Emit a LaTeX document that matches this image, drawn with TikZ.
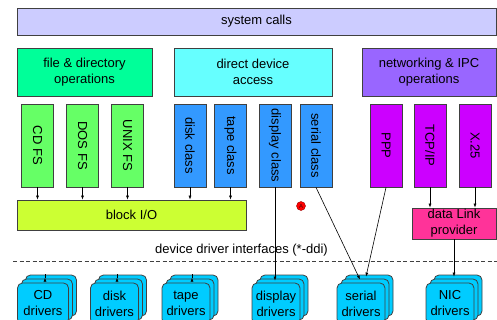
\documentclass[tikz,border=0pt]{standalone}
\usepackage{fontspec}
\setmainfont{Liberation Sans}
\usepackage{graphicx}
\usetikzlibrary{arrows.meta,shadows,calc}
\definecolor{syscol}{HTML}{CCCCFF}
\definecolor{filecol}{HTML}{00FF99}
\definecolor{devcol}{HTML}{66FFFF}
\definecolor{netcol}{HTML}{9966FF}
\definecolor{fscol}{HTML}{66FF66}
\definecolor{clscol}{HTML}{3399FF}
\definecolor{protocol}{HTML}{CC00FF}
\definecolor{blkcol}{HTML}{CCFF33}
\definecolor{linkcol}{HTML}{FF3399}
\definecolor{drvcol}{HTML}{00CCFF}
\definecolor{edgecol}{HTML}{404040}
\newcommand{\vtext}[1]{\rotatebox{-90}{#1}}

\begin{document}
\begin{tikzpicture}[x=1pt,y=-1pt,
	box/.style={draw=edgecol, line width=0.8pt, inner sep=0pt, align=center,
		font=\fontsize{13}{16}\selectfont},
	vbox/.style={box, minimum width=32pt, minimum height=83pt},
	drvbox/.style={box, fill=drvcol, rounded corners=5pt, minimum width=48pt, minimum height=41pt,
		double copy shadow={shadow xshift=4pt, shadow yshift=4pt, fill=drvcol, draw=edgecol}},
	>={Latex[length=4pt,width=3pt]}]
	\useasboundingbox (0,0) rectangle (497,320);
	\clip (0,0) rectangle (497,320);
	% top layer
	\node[box, fill=syscol, minimum width=479pt, minimum height=27pt] (sys) at (256.5,21.5) {system calls};
	\node[box, fill=filecol, minimum width=135pt, minimum height=48pt] (fileops) at (84.5,72) {file \& directory\\operations};
	\node[box, fill=devcol, minimum width=158pt, minimum height=48pt] (devacc) at (253,72) {direct device\\access};
	\node[box, fill=netcol, minimum width=134pt, minimum height=48pt] (netops) at (429,72) {networking \& IPC\\operations};
	% file systems, classes, protocols
	\node[vbox, fill=fscol] (cdfs) at (37.5,145.5) {\vtext{CD FS}};
	\node[vbox, fill=fscol] (dosfs) at (82.5,145.5) {\vtext{DOS FS}};
	\node[vbox, fill=fscol] (unixfs) at (127.5,145.5) {\vtext{UNIX FS}};
	\node[vbox, fill=clscol] (diskcls) at (190,145.5) {\vtext{disk class}};
	\node[vbox, fill=clscol] (tapecls) at (230.5,145.5) {\vtext{tape class}};
	\node[vbox, fill=clscol] (dispcls) at (275,145.5) {\vtext{display class}};
	\node[vbox, fill=clscol] (sercls) at (316,145.5) {\vtext{serial class}};
	\node[vbox, fill=protocol] (ppp) at (386,145.5) {\vtext{PPP}};
	\node[vbox, fill=protocol] (tcpip) at (430,145.5) {\vtext{TCP/IP}};
	\node[vbox, fill=protocol] (xtf) at (475,145.5) {\vtext{X.25}};
	% block layer
	\node[box, fill=blkcol, minimum width=229pt, minimum height=30pt] (blockio) at (131.5,215) {block I/O};
	\node[box, fill=linkcol, minimum width=84pt, minimum height=31pt] (datalink) at (454,223.5) {data Link\\provider};
	\node[circle, fill=red, draw=red!60!black, minimum size=9pt, inner sep=0pt,
		text=red!30!black, font=\fontsize{6}{6}\selectfont] (mark) at (301,206) {A};
	% ddi boundary
	\node[font=\fontsize{13}{16}\selectfont] (ddi) at (241.5,250) {device driver interfaces (*-ddi)};
	\coordinate (ddil) at (13,261);
	\coordinate (ddir) at (497,261);
	\draw[edgecol, line width=0.7pt, dash pattern=on 4pt off 2.5pt] (ddil) -- (ddir);
	% drivers
	\node[drvbox, minimum width=51pt] (cddrv) at (43,303.5) {CD\\drivers};
	\node[drvbox] (diskdrv) at (114.5,303.5) {disk\\drivers};
	\node[drvbox] (tapedrv) at (186,303.5) {tape\\drivers};
	\node[drvbox] (dispdrv) at (276,303.5) {display\\drivers};
	\node[drvbox] (serdrv) at (361,303.5) {serial\\drivers};
	\node[drvbox] (nicdrv) at (450,303.5) {NIC\\drivers};
	% connectors
	\path[->, line width=0.6pt]
	(cdfs) edge (cdfs.south |- blockio.north)
	(dosfs) edge (dosfs.south |- blockio.north)
	(unixfs) edge (unixfs.south |- blockio.north)
	(diskcls) edge (diskcls.south |- blockio.north)
	(tapecls) edge (tapecls.south |- blockio.north)
	(tcpip) edge (tcpip.south |- datalink.north)
	(xtf) edge (xtf.south |- datalink.north)
	($(cddrv.north)+(2,-5)$ |- blockio.south) edge ($(cddrv.north)+(2,-5)$)
	($(diskdrv.north)+(2.5,-5)$ |- blockio.south) edge ($(diskdrv.north)+(2.5,-5)$)
	($(tapedrv.north)+(6,-5)$ |- blockio.south) edge ($(tapedrv.north)+(6,-5)$)
	(dispcls.south) edge ($(dispcls.south |- dispdrv.north)+(0,-2)$)
	(sercls.south) edge ($(serdrv.north)+(-1,-3)$)
	(ppp.south) edge ($(serdrv.north)+(5,-6)$)
	(datalink.south) edge ($(datalink.south |- nicdrv.north)+(0,-6)$);
\end{tikzpicture}
\end{document}
